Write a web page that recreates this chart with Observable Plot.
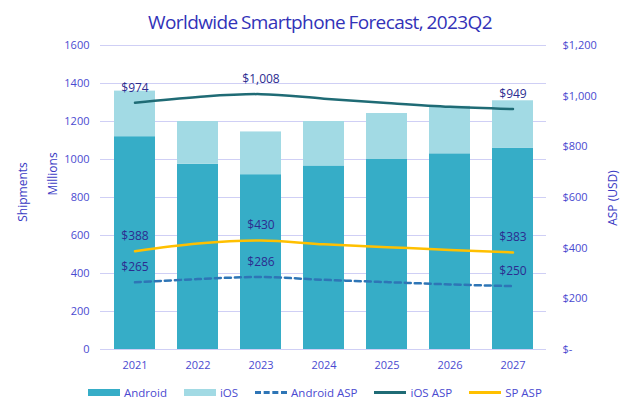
<!DOCTYPE html>
<html>
<head>
<meta charset="utf-8">
<script src="https://cdn.jsdelivr.net/npm/d3@7"></script>
<script src="https://cdn.jsdelivr.net/npm/@observablehq/plot@0.6"></script>
<style>
  body { margin: 0; background: #fff; font-family: "Open Sans", sans-serif; }
  #wrap { position: relative; width: 640px; height: 411px; overflow: hidden; }
  #title { height: 36px; text-align: center; font-size: 19px; color: #3232b8; line-height: 26px; padding-top: 9px; box-sizing: border-box; letter-spacing: -0.6px; word-spacing: -1px; }
  .ylab { position: absolute; font-size: 12px; color: #3a3ac4; white-space: nowrap; transform: translate(-50%, -50%) rotate(-90deg); }
  #legend { position: absolute; left: 88px; top: 385px; display: flex; align-items: center; font-size: 11.5px; color: #4a4ad0; }
  .item { display: flex; align-items: center; margin-right: 17px; }
  .sw { width: 32px; margin-right: 4px; }
</style>
</head>
<body>
<div id="wrap">
  <div id="title">Worldwide Smartphone Forecast, 2023Q2</div>
  <div id="chart"></div>
  <span class="ylab" style="left:22px;top:192px">Shipments</span>
  <span class="ylab" style="left:52px;top:174px">Millions</span>
  <span class="ylab" style="left:612px;top:198px">ASP (USD)</span>
  <div id="legend"></div>
</div>
<script>
const years = ["2021", "2022", "2023", "2024", "2025", "2026", "2027"];
const androidShip = [1120, 975, 920, 966, 1000, 1030, 1060];
const iosShip = [240, 225, 225, 234, 242, 250, 249];
const androidASP = [265, 278, 286, 275, 266, 257, 250];
const iosASP = [974, 997, 1008, 990, 973, 958, 949];
const spASP = [388, 418, 430, 415, 404, 393, 383];
const shipTicks = [0, 200, 400, 600, 800, 1000, 1200, 1400, 1600];
const aspTicks = [0, 200, 400, 600, 800, 1000, 1200];
const labelYears = ["2021", "2023", "2027"];

const shipMax = 1600, aspMax = 1200;
const k = shipMax / aspMax;

const bars = [];
years.forEach((y, i) => {
  bars.push({year: y, series: "Android", value: androidShip[i]});
  bars.push({year: y, series: "iOS", value: iosShip[i]});
});
const mk = (arr, name) => years.map((y, i) => ({year: y, series: name, asp: arr[i], v: arr[i] * k}));
const aAsp = mk(androidASP, "Android ASP");
const iAsp = mk(iosASP, "iOS ASP");
const sAsp = mk(spASP, "SP ASP");
const labels = [...aAsp, ...iAsp, ...sAsp].filter(d => labelYears.includes(d.year));

const axisColor = "#4a4ad0";
const gridColor = "#cfcff5";
const money = d => d === 0 ? "$-" : "$" + d3.format(",")(d);

const chart = Plot.plot({
  width: 640,
  height: 345,
  marginLeft: 100,
  marginRight: 94,
  marginTop: 9,
  marginBottom: 32,
  style: {fontFamily: "Open Sans, sans-serif", fontSize: "11px", background: "transparent"},
  x: {domain: years, paddingInner: 0.356, paddingOuter: 0.178, label: null},
  y: {domain: [0, shipMax], label: null},
  color: {domain: ["Android", "iOS"], range: ["#36adc7", "#a2dae4"]},
  marks: [
    Plot.ruleY(shipTicks, {stroke: gridColor, strokeWidth: 1}),
    Plot.barY(bars, {x: "year", y: "value", fill: "series"}),
    Plot.axisX({tickSize: 0, tickPadding: 12, color: axisColor, fontSize: 11}),
    Plot.axisY({ticks: shipTicks, tickFormat: d => String(d), tickSize: 0, tickPadding: 11, color: axisColor, fontSize: 11, label: null}),
    Plot.axisY({anchor: "right", ticks: aspTicks.map(d => d * k), tickFormat: d => money(Math.round(d / k)), tickSize: 0, tickPadding: 16, color: axisColor, fontSize: 11, label: null, textAnchor: "start"}),
    Plot.line(aAsp, {x: "year", y: "v", stroke: "#2e75b6", strokeWidth: 2.5, strokeDasharray: "6,4", curve: "catmull-rom"}),
    Plot.line(iAsp, {x: "year", y: "v", stroke: "#1f6b75", strokeWidth: 2.5, curve: "catmull-rom"}),
    Plot.line(sAsp, {x: "year", y: "v", stroke: "#ffc000", strokeWidth: 2.5, curve: "catmull-rom"}),
    Plot.text(labels, {x: "year", y: "v", text: d => money(d.asp), dy: -15, fill: "#2c2c90", fontSize: 12})
  ]
});
document.getElementById("chart").appendChild(chart);

const legendItems = [
  {name: "Android", type: "box", color: "#36adc7"},
  {name: "iOS", type: "box", color: "#a2dae4"},
  {name: "Android ASP", type: "dash", color: "#2e75b6"},
  {name: "iOS ASP", type: "line", color: "#1f6b75"},
  {name: "SP ASP", type: "line", color: "#ffc000"}
];
const leg = document.getElementById("legend");
legendItems.forEach(it => {
  const d = document.createElement("div");
  d.className = "item";
  const s = document.createElement("div");
  s.className = "sw";
  if (it.type === "box") { s.style.height = "7px"; s.style.background = it.color; }
  else if (it.type === "dash") { s.style.height = "0"; s.style.borderTop = "3px dashed " + it.color; }
  else { s.style.height = "3px"; s.style.background = it.color; }
  d.appendChild(s);
  const t = document.createElement("span");
  t.textContent = it.name;
  d.appendChild(t);
  leg.appendChild(d);
});
</script>
</body>
</html>
